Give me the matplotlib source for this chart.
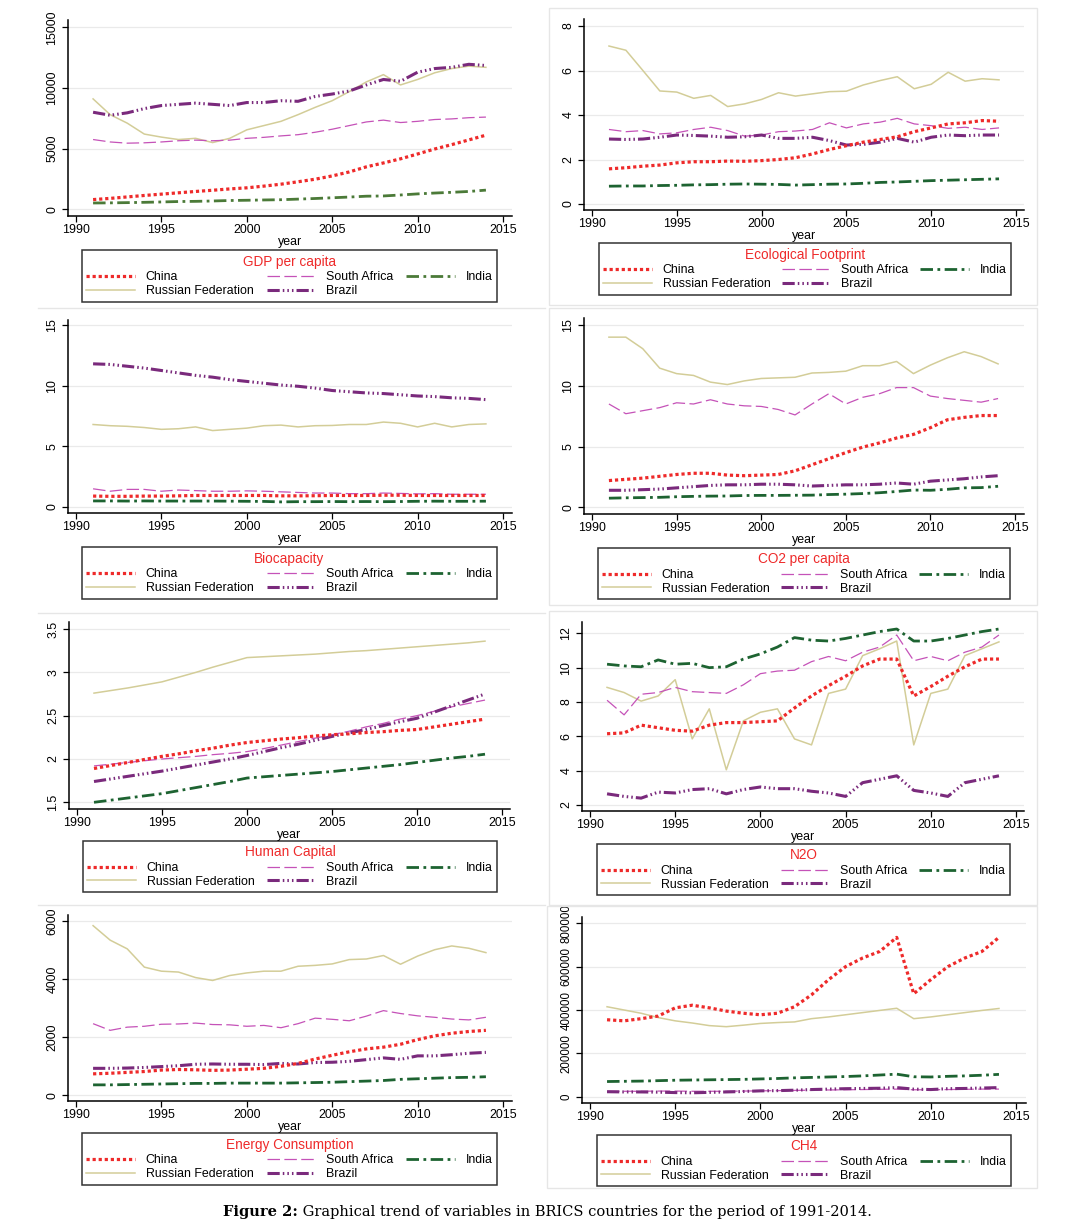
import matplotlib
matplotlib.use("Agg")
import matplotlib.pyplot as plt
from matplotlib.lines import Line2D
from matplotlib.patches import Rectangle

plt.rcParams["font.family"] = ["Liberation Sans", "DejaVu Sans"]

W, H = 1085, 1225

years = list(range(1991, 2015))

# ---------------- data ----------------
cn_gdp = [800, 900, 1020, 1140, 1250, 1360, 1470, 1570, 1680, 1770, 1910, 2070, 2270, 2480, 2750, 3080, 3500, 3820, 4160, 4560, 4970, 5330, 5720, 6110]
in_gdp = [520, 530, 550, 575, 605, 640, 655, 685, 725, 745, 770, 790, 840, 890, 950, 1010, 1080, 1100, 1180, 1270, 1340, 1400, 1470, 1580]
sa_gdp = [5750, 5550, 5450, 5480, 5550, 5650, 5700, 5650, 5700, 5850, 5930, 6050, 6150, 6350, 6600, 6900, 7200, 7350, 7150, 7250, 7400, 7450, 7550, 7600]
ru_gdp = [9100, 7800, 7100, 6200, 5950, 5750, 5850, 5500, 5850, 6550, 6900, 7250, 7800, 8400, 8950, 9700, 10500, 11100, 10250, 10700, 11250, 11600, 11800, 11700]
br_gdp = [8000, 7750, 7950, 8300, 8550, 8650, 8750, 8650, 8550, 8800, 8800, 8950, 8900, 9300, 9500, 9750, 10250, 10700, 10550, 11300, 11600, 11700, 11950, 11850]

ru_ef = [7.10, 6.91, 6.00, 5.08, 5.03, 4.75, 4.88, 4.38, 4.50, 4.70, 5.00, 4.85, 4.95, 5.05, 5.07, 5.35, 5.55, 5.72, 5.18, 5.38, 5.92, 5.52, 5.63, 5.58]
sa_ef = [3.35, 3.25, 3.30, 3.15, 3.20, 3.35, 3.45, 3.30, 3.05, 3.10, 3.25, 3.28, 3.35, 3.65, 3.42, 3.60, 3.68, 3.85, 3.60, 3.52, 3.40, 3.45, 3.35, 3.42]
br_ef = [2.92, 2.90, 2.92, 3.00, 3.10, 3.08, 3.05, 3.00, 3.02, 3.10, 2.95, 2.95, 3.00, 2.85, 2.65, 2.68, 2.78, 2.95, 2.78, 3.00, 3.10, 3.07, 3.10, 3.10]
cn_ef = [1.58, 1.63, 1.70, 1.75, 1.85, 1.90, 1.90, 1.93, 1.92, 1.95, 2.00, 2.08, 2.25, 2.45, 2.62, 2.78, 2.90, 3.02, 3.25, 3.42, 3.60, 3.65, 3.75, 3.72]
in_ef = [0.80, 0.81, 0.81, 0.83, 0.84, 0.86, 0.87, 0.89, 0.90, 0.89, 0.88, 0.85, 0.87, 0.89, 0.90, 0.93, 0.97, 0.99, 1.02, 1.05, 1.07, 1.09, 1.11, 1.13]

br_bio = [11.80, 11.75, 11.60, 11.45, 11.25, 11.05, 10.85, 10.70, 10.50, 10.35, 10.20, 10.05, 9.95, 9.80, 9.60, 9.50, 9.40, 9.35, 9.25, 9.15, 9.10, 9.00, 8.95, 8.85]
ru_bio = [6.80, 6.70, 6.65, 6.55, 6.40, 6.45, 6.60, 6.30, 6.40, 6.50, 6.70, 6.75, 6.60, 6.70, 6.72, 6.80, 6.80, 7.00, 6.90, 6.60, 6.90, 6.60, 6.80, 6.85]
sa_bio = [1.50, 1.30, 1.45, 1.45, 1.30, 1.40, 1.35, 1.30, 1.30, 1.33, 1.30, 1.25, 1.20, 1.15, 1.15, 1.10, 1.10, 1.15, 1.12, 1.08, 1.10, 1.05, 1.05, 1.05]
cn_bio = [0.90, 0.88, 0.88, 0.90, 0.90, 0.92, 0.95, 0.95, 0.95, 0.95, 0.95, 0.92, 0.92, 0.93, 0.95, 0.95, 0.95, 0.97, 0.97, 0.95, 0.95, 0.95, 0.95, 0.95]
in_bio = [0.50, 0.50, 0.49, 0.50, 0.49, 0.49, 0.49, 0.49, 0.48, 0.47, 0.46, 0.42, 0.44, 0.44, 0.45, 0.44, 0.45, 0.44, 0.45, 0.47, 0.48, 0.47, 0.47, 0.48]

ru_co2 = [14.0, 14.0, 13.05, 11.45, 11.0, 10.85, 10.3, 10.1, 10.4, 10.6, 10.65, 10.7, 11.05, 11.1, 11.2, 11.65, 11.65, 12.0, 11.0, 11.7, 12.3, 12.8, 12.4, 11.8]
sa_co2 = [8.5, 7.7, 7.95, 8.2, 8.6, 8.5, 8.85, 8.5, 8.35, 8.3, 8.05, 7.6, 8.5, 9.35, 8.5, 9.05, 9.35, 9.85, 9.85, 9.15, 8.95, 8.8, 8.65, 8.95]
cn_co2 = [2.2, 2.3, 2.4, 2.55, 2.7, 2.8, 2.8, 2.65, 2.6, 2.65, 2.7, 3.0, 3.5, 4.0, 4.5, 4.95, 5.3, 5.7, 6.0, 6.55, 7.2, 7.4, 7.55, 7.55]
br_co2 = [1.4, 1.4, 1.45, 1.5, 1.6, 1.7, 1.8, 1.85, 1.85, 1.9, 1.9, 1.85, 1.75, 1.8, 1.85, 1.85, 1.9, 2.0, 1.9, 2.15, 2.25, 2.35, 2.5, 2.6]
in_co2 = [0.75, 0.78, 0.8, 0.82, 0.87, 0.9, 0.92, 0.93, 0.97, 0.98, 0.98, 0.99, 1.0, 1.05, 1.08, 1.13, 1.2, 1.3, 1.42, 1.4, 1.48, 1.6, 1.62, 1.73]

ru_hc = [2.76, 2.79, 2.82, 2.855, 2.89, 2.945, 3.0, 3.06, 3.115, 3.17, 3.18, 3.19, 3.2, 3.21, 3.225, 3.24, 3.25, 3.265, 3.28, 3.295, 3.31, 3.325, 3.34, 3.36]
sa_hc = [1.92, 1.94, 1.96, 1.98, 2.0, 2.015, 2.03, 2.05, 2.065, 2.085, 2.12, 2.16, 2.2, 2.24, 2.28, 2.32, 2.37, 2.41, 2.46, 2.5, 2.55, 2.6, 2.64, 2.68]
cn_hc = [1.89, 1.925, 1.96, 1.995, 2.03, 2.06, 2.095, 2.125, 2.16, 2.19, 2.21, 2.23, 2.245, 2.265, 2.28, 2.29, 2.305, 2.315, 2.33, 2.34, 2.37, 2.4, 2.43, 2.46]
br_hc = [1.74, 1.77, 1.8, 1.83, 1.86, 1.895, 1.93, 1.965, 2.0, 2.04, 2.085, 2.13, 2.17, 2.215, 2.26, 2.3, 2.34, 2.385, 2.43, 2.47, 2.54, 2.61, 2.68, 2.75]
in_hc = [1.5, 1.525, 1.55, 1.575, 1.6, 1.635, 1.67, 1.705, 1.74, 1.78, 1.795, 1.81, 1.825, 1.84, 1.855, 1.875, 1.895, 1.915, 1.935, 1.96, 1.985, 2.01, 2.03, 2.055]

in_n2o = [10.2, 10.1, 10.05, 10.45, 10.2, 10.25, 10.0, 10.05, 10.5, 10.8, 11.2, 11.75, 11.6, 11.55, 11.7, 11.9, 12.1, 12.25, 11.55, 11.55, 11.7, 11.9, 12.1, 12.25]
sa_n2o = [8.1, 7.25, 8.45, 8.55, 8.85, 8.6, 8.55, 8.5, 9.0, 9.65, 9.8, 9.85, 10.35, 10.65, 10.4, 10.9, 11.2, 11.9, 10.4, 10.65, 10.4, 10.9, 11.2, 11.9]
ru_n2o = [8.85, 8.55, 8.05, 8.35, 9.3, 5.85, 7.6, 4.05, 6.9, 7.4, 7.6, 5.85, 5.5, 8.5, 8.75, 10.7, 11.1, 11.55, 5.5, 8.5, 8.75, 10.7, 11.1, 11.5]
cn_n2o = [6.15, 6.2, 6.65, 6.5, 6.35, 6.3, 6.65, 6.8, 6.8, 6.85, 6.9, 7.65, 8.35, 8.95, 9.5, 10.1, 10.5, 10.5, 8.35, 8.9, 9.5, 10.05, 10.5, 10.5]
br_n2o = [2.65, 2.5, 2.4, 2.75, 2.7, 2.9, 2.95, 2.65, 2.9, 3.05, 2.95, 2.95, 2.8, 2.7, 2.5, 3.3, 3.5, 3.7, 2.85, 2.7, 2.5, 3.3, 3.5, 3.7]

ru_en = [5850, 5350, 5050, 4420, 4280, 4250, 4060, 3960, 4130, 4220, 4280, 4280, 4450, 4480, 4530, 4680, 4700, 4820, 4520, 4800, 5020, 5150, 5070, 4920]
sa_en = [2470, 2240, 2350, 2380, 2450, 2460, 2490, 2440, 2430, 2380, 2410, 2330, 2470, 2660, 2620, 2570, 2730, 2920, 2820, 2740, 2690, 2630, 2600, 2690]
cn_en = [740, 760, 790, 820, 870, 890, 880, 860, 870, 900, 930, 1000, 1100, 1250, 1380, 1500, 1600, 1660, 1760, 1920, 2050, 2140, 2200, 2240]
br_en = [930, 930, 940, 960, 990, 1020, 1070, 1080, 1070, 1070, 1060, 1100, 1080, 1130, 1140, 1170, 1230, 1290, 1240, 1360, 1360, 1400, 1450, 1480]
in_en = [360, 360, 370, 380, 390, 400, 410, 410, 420, 420, 420, 420, 430, 440, 450, 470, 490, 510, 550, 570, 590, 610, 620, 640]

cn_ch4 = [355000, 350000, 360000, 372000, 410000, 422000, 410000, 395000, 385000, 378000, 385000, 415000, 470000, 540000, 600000, 640000, 670000, 735000, 475000, 540000, 600000, 640000, 670000, 735000]
ru_ch4 = [415000, 400000, 385000, 365000, 350000, 340000, 328000, 323000, 330000, 338000, 342000, 345000, 360000, 368000, 378000, 388000, 398000, 408000, 360000, 368000, 378000, 388000, 398000, 407000]
in_ch4 = [70000, 71000, 72000, 74000, 76000, 77000, 78000, 79000, 80000, 82000, 84000, 87000, 89000, 91000, 93000, 96000, 100000, 104000, 92000, 91000, 94000, 96000, 99000, 103000]
sa_ch4 = [25000, 25000, 25000, 26000, 26000, 25000, 25000, 25000, 26000, 27000, 28000, 29000, 30000, 31000, 32000, 33000, 34000, 35000, 32000, 32000, 33000, 34000, 35000, 35000]
br_ch4 = [23000, 22000, 22000, 21000, 19000, 18000, 20000, 22000, 24000, 27000, 28000, 30000, 33000, 35000, 37000, 38000, 39000, 42000, 35000, 33000, 37000, 38000, 40000, 42000]

x_ticks = [1990, 1995, 2000, 2005, 2010, 2015]
legend_order = ["China", "Russian Federation", "South Africa", "Brazil", "India"]

# ---------------- styles ----------------
RED = "#ee2a2a"
STYLE = {
    "China": dict(color=RED, lw=2.3, ls=(0, (1, 0.9))),
    "South Africa": dict(color="#c552b8", lw=0.9, ls=(0, (10, 3.5))),
    "India": dict(color="#1d6331", lw=2.0, ls=(0, (4.5, 1.6, 1, 1.6))),
    "Russian Federation": dict(color="#d3cd98", lw=1.1, ls="-"),
    "Brazil": dict(color="#7a2a7c", lw=2.2, ls=(0, (4, 1, 0.5, 1, 0.5, 1, 0.5, 1))),
}

panels = [
    dict(title="GDP per capita", yticks=[0, 5000, 10000, 15000],
         data={"China": cn_gdp, "South Africa": sa_gdp, "India": in_gdp, "Russian Federation": ru_gdp, "Brazil": br_gdp},
         ax=(68, 512, 20, 216), xr=((1990, 76), (2015, 503)), yr=((0, 209.3), (15000, 27.3)),
         leg=(82, 497, 252, 300), frame=None, india="#4b7a38"),
    dict(title="Ecological Footprint", yticks=[0, 2, 4, 6, 8],
         data={"China": cn_ef, "South Africa": sa_ef, "India": in_ef, "Russian Federation": ru_ef, "Brazil": br_ef},
         ax=(584, 1024, 19, 210), xr=((1990, 592), (2015, 1016)), yr=((0, 204), (8, 26)),
         leg=(599, 1011, 244, 294), frame=(549, 8, 1037, 305)),
    dict(title="Biocapacity", yticks=[0, 5, 10, 15],
         data={"China": cn_bio, "South Africa": sa_bio, "India": in_bio, "Russian Federation": ru_bio, "Brazil": br_bio},
         ax=(68, 512, 320, 513), xr=((1990, 76), (2015, 503)), yr=((0, 507), (15, 325)),
         leg=(82, 497, 548, 598), frame=None),
    dict(title="CO2 per capita", yticks=[0, 5, 10, 15],
         data={"China": cn_co2, "South Africa": sa_co2, "India": in_co2, "Russian Federation": ru_co2, "Brazil": br_co2},
         ax=(584, 1024, 318, 514), xr=((1990, 592), (2015, 1015)), yr=((0, 507.3), (15, 325)),
         leg=(598, 1010, 549, 598), frame=(549, 308, 1037, 605)),
    dict(title="Human Capital", yticks=[1.5, 2, 2.5, 3, 3.5],
         data={"China": cn_hc, "South Africa": sa_hc, "India": in_hc, "Russian Federation": ru_hc, "Brazil": br_hc},
         ax=(69, 510, 622, 809), xr=((1990, 77), (2015, 502)), yr=((1.5, 802.3), (3.5, 629)),
         leg=(83, 497, 842, 891), frame=None),
    dict(title="N2O", yticks=[2, 4, 6, 8, 10, 12],
         data={"China": cn_n2o, "South Africa": sa_n2o, "India": in_n2o, "Russian Federation": ru_n2o, "Brazil": br_n2o},
         ax=(582, 1024, 622, 811), xr=((1990, 590), (2015, 1016)), yr=((2, 805), (12, 633.3)),
         leg=(597, 1010, 845, 894), frame=(549, 611, 1037, 905)),
    dict(title="Energy Consumption", yticks=[0, 2000, 4000, 6000],
         data={"China": cn_en, "South Africa": sa_en, "India": in_en, "Russian Federation": ru_en, "Brazil": br_en},
         ax=(68, 512, 915, 1101), xr=((1990, 76), (2015, 503)), yr=((0, 1095.3), (6000, 921.3)),
         leg=(82, 497, 1135, 1183), frame=None),
    dict(title="CH4", yticks=[0, 200000, 400000, 600000, 800000],
         data={"China": cn_ch4, "South Africa": sa_ch4, "India": in_ch4, "Russian Federation": ru_ch4, "Brazil": br_ch4},
         ax=(582, 1026, 917, 1103), xr=((1990, 590), (2015, 1016)), yr=((0, 1096.7), (800000, 923.3)),
         leg=(597, 1011, 1137, 1184), frame=(547, 906, 1037, 1188), ysize=8.3),
]

fig = plt.figure(figsize=(W / 100, H / 100), dpi=100)
fig.patch.set_facecolor("white")

# faint frames / separators of the original page
FRAME = "#e6e6e6"
for y in (308, 613, 905):
    fig.add_artist(Line2D([38 / W, 545 / W], [1 - y / H, 1 - y / H], color=FRAME, lw=1.0))
for p in panels:
    if p["frame"]:
        x0, y0, x1, y1 = p["frame"]
        fig.add_artist(Rectangle((x0 / W, 1 - y1 / H), (x1 - x0) / W, (y1 - y0) / H,
                                 fill=False, edgecolor=FRAME, lw=1.0))

draw_order = ["Russian Federation", "South Africa", "India", "Brazil", "China"]

for p in panels:
    L, R, T, B = p["ax"]
    ax = fig.add_axes([L / W, 1 - B / H, (R - L) / W, (B - T) / H])
    (xa, pa), (xb, pb) = p["xr"]
    sx = (pb - pa) / (xb - xa)
    ax.set_xlim(xa + (L - pa) / sx, xa + (R - pa) / sx)
    (ya, qa), (yb, qb) = p["yr"]
    sy = (qb - qa) / (yb - ya)
    ax.set_ylim(ya + (B - qa) / sy, ya + (T - qa) / sy)

    handles = {}
    for c in draw_order:
        st = dict(STYLE[c])
        if c == "India" and p.get("india"):
            st["color"] = p["india"]
        ln, = ax.plot(years, p["data"][c], color=st["color"], lw=st["lw"], linestyle=st["ls"],
                      dash_capstyle="butt", solid_joinstyle="round")
        handles[c] = ln

    ax.set_xticks(x_ticks)
    ax.set_yticks(p["yticks"])
    ax.set_yticklabels(["{:g}".format(v) for v in p["yticks"]], rotation=90, va="center")
    ax.tick_params(axis="both", labelsize=8.9, length=4.5, width=0.9, color="black", direction="out")
    if p.get("ysize"):
        ax.tick_params(axis="y", labelsize=p["ysize"])
    ax.tick_params(axis="x", pad=1.5)
    ax.tick_params(axis="y", pad=2.5)
    for s in ("top", "right"):
        ax.spines[s].set_visible(False)
    for s in ("left", "bottom"):
        ax.spines[s].set_linewidth(1.1)
    ax.grid(axis="y", color="#eaeaea", lw=0.9)
    ax.set_axisbelow(True)
    ax.set_xlabel("year", fontsize=8.9, labelpad=0)

    x0, x1, y0, y1 = p["leg"]
    leg = ax.legend([handles[c] for c in legend_order], legend_order, ncol=3, mode="expand",
                    loc="center", bbox_to_anchor=(x0 / W, 1 - y1 / H, (x1 - x0) / W, (y1 - y0) / H),
                    bbox_transform=fig.transFigure, title=p["title"], frameon=True, fancybox=False,
                    fontsize=8.9, handlelength=3.9, handletextpad=0.9, borderpad=0.35,
                    labelspacing=0.15, columnspacing=1.0, borderaxespad=0)
    leg.get_frame().set_edgecolor("black")
    leg.get_frame().set_linewidth(1.1)
    leg.get_title().set_color(RED)
    leg.get_title().set_fontsize(9.8)
    leg._legend_box.sep = 2

# caption with bold prefix
fig.canvas.draw()
r = fig.canvas.get_renderer()
cy = 1 - 1212 / H
t1 = fig.text(0, cy, "Figure 2:", fontsize=10.5, fontweight="bold", family="DejaVu Serif",
              va="center", ha="left")
t2 = fig.text(0, cy, " Graphical trend of variables in BRICS countries for the period of 1991-2014.",
              fontsize=10.5, family="DejaVu Serif", va="center", ha="left")
w1 = t1.get_window_extent(r).width
w2 = t2.get_window_extent(r).width
start = 547 - (w1 + w2) / 2
t1.set_x(start / W)
t2.set_x((start + w1) / W)

fig.savefig("out.png", dpi=100, facecolor="white")
